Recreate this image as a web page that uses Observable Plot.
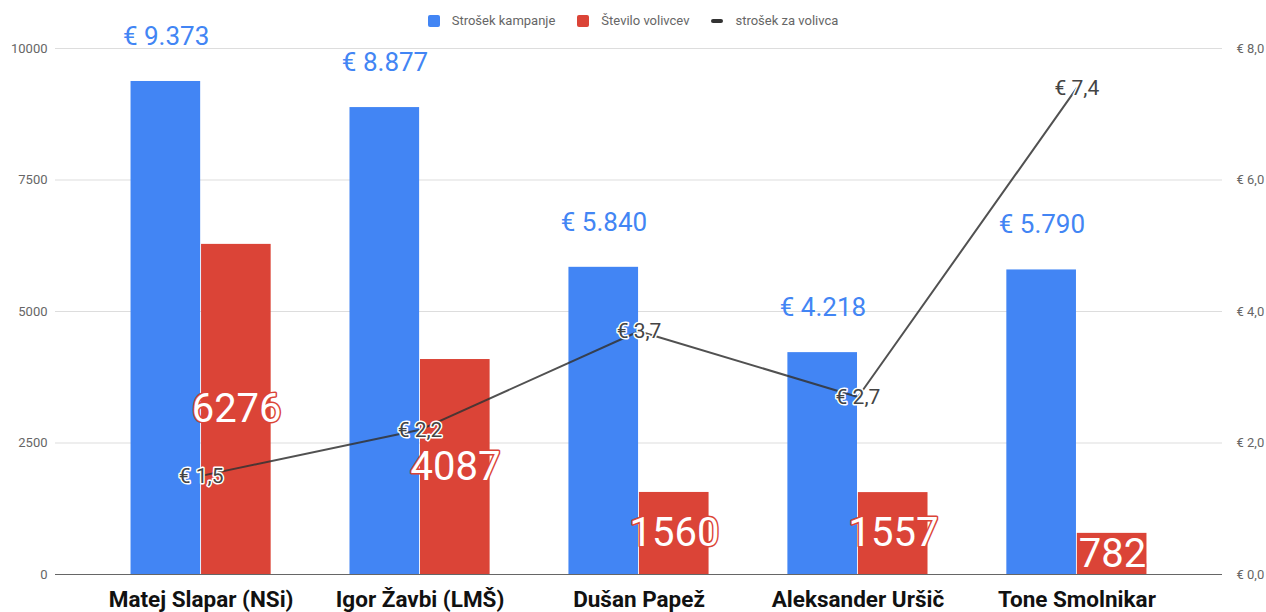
<!DOCTYPE html>
<html>
<head>
<meta charset="utf-8">
<script src="https://cdn.jsdelivr.net/npm/d3@7"></script>
<script src="https://cdn.jsdelivr.net/npm/@observablehq/plot@0.6"></script>
<style>
  body { margin: 0; background: #fff; font-family: Roboto, "Noto Sans", sans-serif; }
  #wrap { position: relative; width: 1266px; height: 612px; }
  #legend { position: absolute; top: 13px; left: 0; width: 1266px; display: flex; justify-content: center; gap: 22px; font-size: 13px; color: #666; }
  #legend span.item { display: inline-flex; align-items: center; gap: 12px; }
  #legend .sw { width: 12px; height: 12px; border-radius: 2px; display: inline-block; }
  #legend .ln { width: 12px; height: 4px; border-radius: 2px; background: #333; display: inline-block; }
</style>
</head>
<body>
<div id="wrap">
  <div id="chart"></div>
  <div id="legend"></div>
</div>
<script>
const candidates = ["Matej Slapar (NSi)", "Igor Žavbi (LMŠ)", "Dušan Papež", "Aleksander Uršič", "Tone Smolnikar"];
const campaignCost = [9373, 8877, 5840, 4218, 5790];
const voters = [6276, 4087, 1560, 1557, 782];
const costPerVoter = [1.5, 2.2, 3.7, 2.7, 7.4];
const leftTicks = [0, 2500, 5000, 7500, 10000];
const rightTicks = [0, 2, 4, 6, 8];
const seriesNames = ["Strošek kampanje", "Število volivcev", "strošek za volivca"];
const colors = ["#4285F4", "#DB4437", "#333333"];

const rightMax = 8, leftMax = 10000, ratio = leftMax / rightMax;
const data = candidates.map((c, i) => ({name: c, cost: campaignCost[i], voters: voters[i], per: costPerVoter[i]}));

const fmtCost = d => "€ " + d3.format(",")(d).replace(/,/g, ".");
const fmtPer = d => "€ " + d.toFixed(1).replace(".", ",");

const chart = Plot.plot({
  width: 1266,
  height: 612,
  marginLeft: 55,
  marginRight: 44,
  marginTop: 48,
  marginBottom: 38,
  style: {fontFamily: "Roboto, 'Noto Sans', sans-serif", overflow: "visible"},
  x: {domain: candidates, paddingInner: 0.36, paddingOuter: 0.345, round: false, label: null},
  y: {domain: [0, leftMax], label: null},
  marks: [
    Plot.ruleY(leftTicks.filter(d => d > 0), {stroke: "#dddddd", strokeWidth: 1}),
    Plot.barY(data, {x: "name", y: "cost", fill: colors[0], insetRight: 70.5}),
    Plot.barY(data, {x: "name", y: "voters", fill: colors[1], insetLeft: 70.5}),
    Plot.ruleY([0], {stroke: "#666", strokeWidth: 1.2}),
    Plot.axisY({ticks: leftTicks, tickFormat: d => String(d), tickSize: 0, tickPadding: 8, fontSize: 13, color: "#666", label: null}),
    Plot.axisY({anchor: "right", ticks: rightTicks.map(d => d * ratio), tickFormat: d => fmtPer(d / ratio), tickSize: 0, tickPadding: 14, fontSize: 13, color: "#666", label: null}),
    Plot.axisX({tickSize: 0, tickPadding: 17, fontSize: 22.5, fontWeight: "bold", color: "#111", label: null}),
    Plot.text(data, {x: "name", y: "cost", text: d => fmtCost(d.cost), dx: -35, dy: -45, fill: colors[0], fontSize: 26}),
    Plot.text(data, {x: "name", y: d => d.voters / 2, text: d => String(d.voters), dx: 35.5, fill: "white", stroke: colors[1], strokeWidth: 3, fontSize: 40}),
    Plot.lineY(data, {x: "name", y: d => d.per * ratio, stroke: colors[2], strokeWidth: 2, strokeOpacity: 0.85}),
    Plot.text(data, {x: "name", y: d => d.per * ratio, text: d => fmtPer(d.per), fill: "#444", stroke: "white", strokeWidth: 3, fontSize: 21})
  ]
});
document.getElementById("chart").appendChild(chart);

const legend = document.getElementById("legend");
seriesNames.forEach((n, i) => {
  const item = document.createElement("span");
  item.className = "item";
  const sw = document.createElement("span");
  if (i < 2) { sw.className = "sw"; sw.style.background = colors[i]; } else { sw.className = "ln"; }
  item.appendChild(sw);
  item.appendChild(document.createTextNode(n));
  legend.appendChild(item);
});
</script>
</body>
</html>
